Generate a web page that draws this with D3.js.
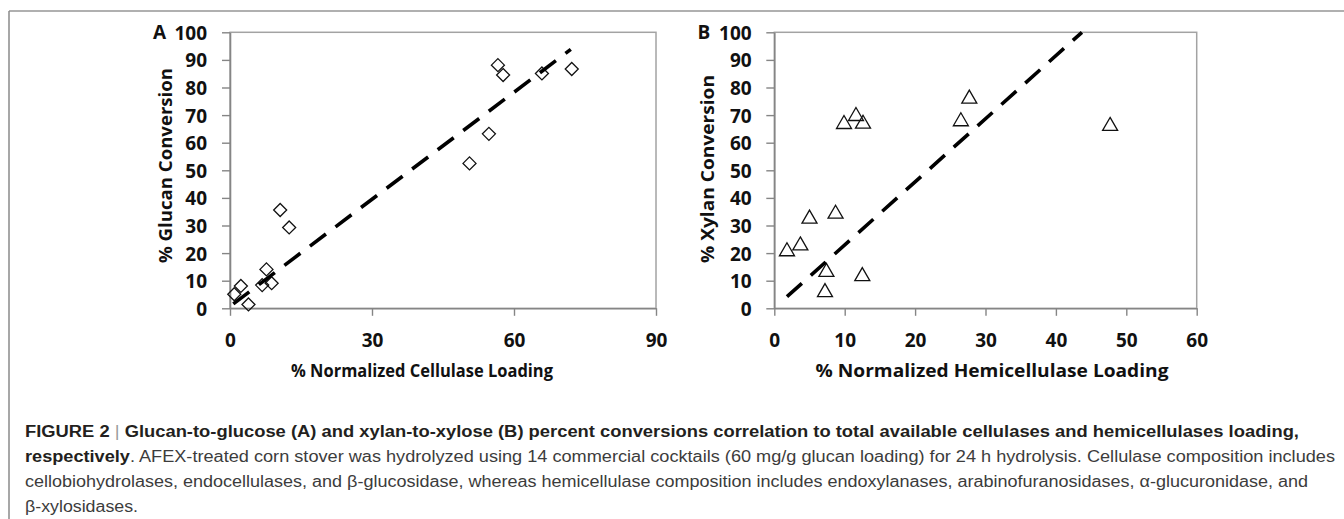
<!DOCTYPE html>
<html>
<head>
<meta charset="utf-8">
<script src="https://cdn.jsdelivr.net/npm/d3@7"></script>
<style>
  html, body { margin: 0; padding: 0; background: #fff; }
  svg { display: block; }
</style>
</head>
<body>
<svg id="fig" width="1344" height="519"></svg>
<script>
// Panel A: glucan conversion vs normalized cellulase loading
const cellulaseLoading = [0.9, 2.3, 3.9, 6.8, 7.7, 8.8, 10.6, 12.5, 50.6, 54.7, 56.6, 57.7, 65.9, 72.2];
const glucanConversion = [5.1, 8.1, 1.4, 8.4, 14.1, 9.1, 35.6, 29.3, 52.5, 63.2, 88.1, 84.5, 85.1, 86.7];
const glucanFitX = [0.7, 72.0];
const glucanFitY = [1.6, 93.8];

// Panel B: xylan conversion vs normalized hemicellulase loading
const hemicellulaseLoading = [1.8, 3.7, 5.0, 8.7, 7.4, 7.2, 12.5, 9.9, 11.6, 12.6, 26.5, 27.7, 47.7];
const xylanConversion = [21.4, 23.5, 33.2, 35.0, 13.9, 6.6, 12.4, 67.5, 70.4, 67.6, 68.5, 76.7, 66.8];
const xylanFitX = [1.8, 43.7];
const xylanFitY = [4.2, 100];

// Tick values
const conversionTicks = [0, 10, 20, 30, 40, 50, 60, 70, 80, 90, 100];
const cellulaseTicks = [0, 30, 60, 90];
const hemicellulaseTicks = [0, 10, 20, 30, 40, 50, 60];

// Caption lines: [text, style] segments
const captionLines = [
  [["FIGURE 2 ", "b"], ["|", "bar"], [" Glucan-to-glucose (A) and xylan-to-xylose (B) percent conversions correlation to total available cellulases and hemicellulases loading,", "b"]],
  [["respectively", "b"], [". AFEX-treated corn stover was hydrolyzed using 14 commercial cocktails (60 mg/g glucan loading) for 24 h hydrolysis. Cellulase composition includes", "r"]],
  [["cellobiohydrolases, endocellulases, and β-glucosidase, whereas hemicellulase composition includes endoxylanases, arabinofuranosidases, α-glucuronidase, and", "r"]],
  [["β-xylosidases.", "r"]]
];
const captionEnds = [1299, 1335, 1308, 138];

const svg = d3.select("#fig");
const chartFont = "'Open Sans', 'Lato', sans-serif";
const axisGray = "#858585";
const frameGray = "#a3a3a3";

// Outer figure border (top and left)
svg.append("line").attr("x1", 9).attr("x2", 1344).attr("y1", 11).attr("y2", 11)
  .attr("stroke", "#b0b0b0").attr("stroke-width", 2);
svg.append("line").attr("x1", 9).attr("x2", 9).attr("y1", 11).attr("y2", 519)
  .attr("stroke", "#8a8a8a").attr("stroke-width", 1.5);

function diamond(s) {
  return `M0,${-s}L${s},0L0,${s}L${-s},0Z`;
}
function triangle(w, h) {
  return `M0,${-h / 2}L${w / 2},${h / 2}L${-w / 2},${h / 2}Z`;
}

function panel(cfg) {
  const x = d3.scaleLinear().domain(cfg.xDomain).range([cfg.left, cfg.right]);
  const y = d3.scaleLinear().domain([0, 100]).range([308.3, 32.3]);
  const g = svg.append("g");

  // plot frame
  g.append("rect")
    .attr("x", cfg.left).attr("y", y(100))
    .attr("width", cfg.right - cfg.left).attr("height", y(0) - y(100))
    .attr("fill", "none").attr("stroke", frameGray).attr("stroke-width", 1.5);

  const yAxis = g.append("g").attr("transform", `translate(${cfg.left},0)`)
    .call(d3.axisLeft(y).tickValues(conversionTicks).tickSize(8).tickPadding(cfg.yPad).tickSizeOuter(0));
  const xAxis = g.append("g").attr("transform", `translate(0,${y(0)})`)
    .call(d3.axisBottom(x).tickValues(cfg.xTicks).tickSize(7.5).tickSizeOuter(0));

  [yAxis, xAxis].forEach(a => {
    a.select(".domain").attr("stroke", axisGray).attr("stroke-width", 1.6);
    a.selectAll(".tick line").attr("stroke", axisGray).attr("stroke-width", 1.4);
    a.selectAll(".tick text")
      .attr("fill", "#111").attr("font-family", chartFont)
      .attr("font-weight", 700).attr("font-size", 19);
  });
  yAxis.selectAll(".tick text").attr("dy", null).attr("y", 7);
  xAxis.selectAll(".tick text").attr("dy", null).attr("y", 39);

  // panel letter
  g.append("text").attr("x", cfg.letterX).attr("y", y(100) + 7)
    .attr("font-family", chartFont).attr("font-weight", 700).attr("font-size", 19)
    .attr("fill", "#111").text(cfg.letter);

  // axis titles
  g.append("text")
    .attr("x", cfg.xTitleX).attr("y", 377).attr("text-anchor", "middle")
    .attr("font-family", chartFont).attr("font-weight", 700).attr("font-size", 18.5)
    .attr("fill", "#111")
    .attr("textLength", cfg.xTitleLen).attr("lengthAdjust", "spacingAndGlyphs")
    .text(cfg.xTitle);
  g.append("text")
    .attr("transform", `translate(${cfg.yTitleX},${cfg.yTitleY}) rotate(-90)`)
    .attr("text-anchor", "middle")
    .attr("font-family", chartFont).attr("font-weight", 700).attr("font-size", 18.5)
    .attr("fill", "#111")
    .attr("textLength", cfg.yTitleLen).attr("lengthAdjust", "spacingAndGlyphs")
    .text(cfg.yTitle);

  // markers
  g.append("g").selectAll("path")
    .data(cfg.xs.map((v, i) => [v, cfg.ys[i]]))
    .join("path")
    .attr("transform", d => `translate(${x(d[0])},${y(d[1])})`)
    .attr("d", cfg.marker)
    .attr("fill", "none").attr("stroke", "#111").attr("stroke-width", 1.3);

  // dashed fit line
  const fit = cfg.fitX.map((v, i) => [v, cfg.fitY[i]]);
  g.append("path")
    .datum(fit)
    .attr("d", d3.line().x(d => x(d[0])).y(d => y(d[1])))
    .attr("fill", "none").attr("stroke", "#000").attr("stroke-width", 3.6)
    .attr("stroke-dasharray", "20,12");
}

panel({
  xDomain: [0, 90], left: 230, right: 656, xTicks: cellulaseTicks, yPad: 15,
  letter: "A", letterX: 153,
  xTitle: "% Normalized Cellulase Loading", xTitleX: 422, xTitleLen: 262,
  yTitle: "% Glucan Conversion", yTitleX: 171.5, yTitleY: 165.5, yTitleLen: 195,
  xs: cellulaseLoading, ys: glucanConversion, fitX: glucanFitX, fitY: glucanFitY,
  marker: diamond(6.5)
});

panel({
  xDomain: [0, 60], left: 774.3, right: 1196.7, xTicks: hemicellulaseTicks, yPad: 14.6,
  letter: "B", letterX: 697.5,
  xTitle: "% Normalized Hemicellulase Loading", xTitleX: 992, xTitleLen: 353,
  yTitle: "% Xylan Conversion", yTitleX: 714, yTitleY: 169, yTitleLen: 188,
  xs: hemicellulaseLoading, ys: xylanConversion, fitX: xylanFitX, fitY: xylanFitY,
  marker: triangle(15, 13)
});

// Caption
const capFont = "'Liberation Sans', Arial, sans-serif";
const baselines = [437, 462, 487, 512];
captionLines.forEach((segs, i) => {
  const t = svg.append("text")
    .attr("x", 25).attr("y", baselines[i])
    .attr("font-family", capFont).attr("font-size", 16)
    .attr("textLength", captionEnds[i] - 25).attr("lengthAdjust", "spacingAndGlyphs");
  segs.forEach(([s, kind]) => {
    const ts = t.append("tspan").text(s);
    if (kind === "b") ts.attr("font-weight", 700).attr("fill", "#231f20");
    else if (kind === "bar") ts.attr("font-weight", 400).attr("fill", "#9a9a9a");
    else ts.attr("font-weight", 400).attr("fill", "#3c3c3c");
  });
});
</script>
</body>
</html>
